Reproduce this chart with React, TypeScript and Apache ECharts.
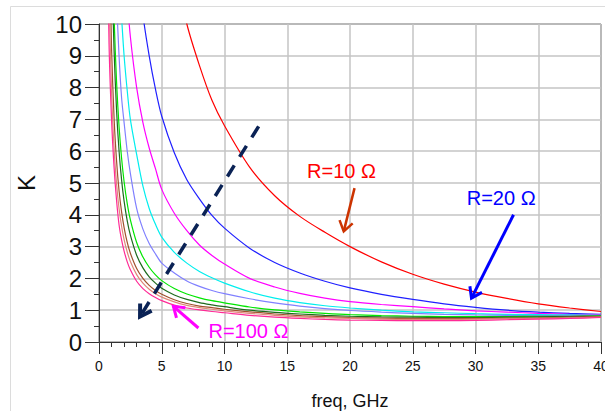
import React, { useEffect, useRef } from "react";
import * as echarts from "echarts";

// frequency samples (GHz)
const freqGHz = [0.6, 0.8, 1, 1.2, 1.4, 1.6, 1.8, 2, 2.25, 2.5, 3, 3.5, 4, 4.5, 5, 6, 7, 8, 9, 10, 12, 14, 16, 18, 20, 22.5, 25, 27.5, 30, 32.5, 35, 37.5, 40];

// K values per resistor value (null = far above the plotted range)
const kR10 = [null, null, null, null, null, null, null, null, null, null, null, null, null, null, null, 11.9, 10.0, 8.7, 7.6, 6.8, 5.5, 4.6, 3.95, 3.45, 3.0, 2.52, 2.13, 1.82, 1.57, 1.37, 1.2, 1.07, 0.96];
const kR20 = [null, null, null, null, null, null, null, null, null, null, 12.5, 10.3, 9.0, 7.95, 7.1, 5.95, 5.1, 4.5, 3.98, 3.58, 2.95, 2.5, 2.17, 1.91, 1.7, 1.5, 1.34, 1.2, 1.09, 1.0, 0.94, 0.9, 0.87];
const kR30 = [null, null, null, null, null, null, null, 12.3, 10.8, 9.6, 8.0, 6.9, 6.1, 5.45, 4.8, 4.05, 3.5, 3.05, 2.72, 2.45, 2.0, 1.73, 1.53, 1.38, 1.27, 1.18, 1.11, 1.04, 0.98, 0.94, 0.9, 0.87, 0.85];
const kR40 = [null, null, null, null, null, 11.5, 10.2, 9.0, 7.9, 7.0, 5.9, 4.9, 4.2, 3.7, 3.3, 2.82, 2.48, 2.22, 2.02, 1.85, 1.58, 1.38, 1.24, 1.14, 1.07, 1.0, 0.95, 0.92, 0.89, 0.87, 0.86, 0.85, 0.84];
const kR50 = [null, null, null, 13.46, 10.8, 8.98, 7.68, 6.9, 6.0, 5.3, 4.2, 3.55, 3.1, 2.77, 2.48, 2.17, 1.92, 1.75, 1.62, 1.52, 1.36, 1.23, 1.13, 1.05, 0.99, 0.94, 0.9, 0.87, 0.85, 0.84, 0.83, 0.83, 0.83];
const kR60 = [null, null, 13.55, 10.25, 8.17, 6.77, 5.78, 5.04, 4.35, 3.84, 3.13, 2.67, 2.35, 2.11, 1.93, 1.68, 1.51, 1.39, 1.3, 1.23, 1.1, 1.01, 0.95, 0.9, 0.86, 0.83, 0.81, 0.8, 0.8, 0.8, 0.81, 0.81, 0.82];
const kR70 = [null, 17.6, 12.2, 9.18, 7.28, 6.0, 5.1, 4.43, 3.81, 3.36, 2.73, 2.33, 2.05, 1.85, 1.69, 1.48, 1.34, 1.24, 1.17, 1.11, 1.0, 0.93, 0.88, 0.84, 0.81, 0.79, 0.78, 0.77, 0.77, 0.78, 0.79, 0.8, 0.81];
const kR80 = [null, 13.1, 9.24, 7.06, 5.69, 4.75, 4.09, 3.6, 3.13, 2.79, 2.31, 2.0, 1.78, 1.62, 1.5, 1.33, 1.21, 1.13, 1.08, 1.03, 0.95, 0.88, 0.83, 0.8, 0.77, 0.75, 0.74, 0.74, 0.74, 0.75, 0.76, 0.78, 0.8];
const kR90 = [17.3, 11.0, 7.89, 6.1, 4.97, 4.19, 3.64, 3.22, 2.83, 2.53, 2.12, 1.85, 1.66, 1.52, 1.41, 1.26, 1.15, 1.08, 1.03, 0.98, 0.9, 0.84, 0.79, 0.76, 0.74, 0.72, 0.71, 0.71, 0.72, 0.73, 0.74, 0.76, 0.78];
const kR100 = [14.65, 9.39, 7.0, 5.5, 4.45, 3.68, 3.21, 2.86, 2.52, 2.27, 1.91, 1.68, 1.52, 1.4, 1.3, 1.16, 1.07, 1.01, 0.96, 0.92, 0.84, 0.78, 0.74, 0.71, 0.69, 0.68, 0.67, 0.67, 0.68, 0.7, 0.72, 0.74, 0.77];

const curveNames = ["R=10", "R=20", "R=30", "R=40", "R=50", "R=60", "R=70", "R=80", "R=90", "R=100"];
const curveColors = ["#FF0000", "#2020FF", "#FF00FF", "#00EEEE", "#8080FF", "#00E600", "#1E6B1E", "#A0522D", "#E0887A", "#FF2A96"];

const xTickLabels = ["0", "5", "10", "15", "20", "25", "30", "35", "40"];
const yTickLabels = ["0", "1", "2", "3", "4", "5", "6", "7", "8", "9", "10"];

// annotations in data coordinates [freq, K]
const annoTexts = [
  { text: "R=10 Ω", at: [16.58, 5.37], color: "#FF0000" },
  { text: "R=20 Ω", at: [29.3, 4.53], color: "#0000FF" },
  { text: "R=100 Ω", at: [8.72, 0.36], color: "#FF00FF" },
];
const annoArrows = [
  { from: [20.36, 4.84], to: [19.5, 3.48], color: "#CC3300", width: 2.5 },
  { from: [33.03, 4.0], to: [29.68, 1.38], color: "#0000FF", width: 3 },
  { from: [7.92, 0.44], to: [5.93, 1.12], color: "#FF00FF", width: 3 },
];
const trendArrow = { from: [12.72, 6.78], to: [3.27, 0.8], color: "#0A2255", width: 3.5 };

const FONT = "'Liberation Sans', Arial, Helvetica, sans-serif";

export default function App() {
  const ref = useRef<HTMLDivElement>(null);
  useEffect(() => {
    const chart = echarts.init(ref.current!, null, { renderer: "svg" });
    const curves = [kR10, kR20, kR30, kR40, kR50, kR60, kR70, kR80, kR90, kR100];
    const series = curves.map((vals, i) => ({
      type: "line",
      name: curveNames[i],
      data: freqGHz
        .map((f, j) => [f, vals[j]])
        .filter((p) => p[1] !== null && p[1] !== undefined),
      showSymbol: false,
      smooth: 0.3,
      clip: true,
      silent: true,
      lineStyle: { color: curveColors[i], width: 1.2 },
      itemStyle: { color: curveColors[i] },
    }));
    chart.setOption({
      animation: false,
      backgroundColor: "#ffffff",
      grid: {
        left: 99, right: 4, top: 24, bottom: 69,
        outerBoundsMode: "none",
        containLabel: false,
        show: true, borderColor: "#333", borderWidth: 1, backgroundColor: "transparent",
      },
      xAxis: {
        type: "value",
        min: 0,
        max: 40,
        interval: 5,
        name: "freq, GHz",
        nameLocation: "middle",
        nameGap: 50,
        nameTextStyle: { fontSize: 18, color: "#111", fontFamily: FONT },
        axisLine: { lineStyle: { color: "#333", width: 1 } },
        axisTick: { show: true, length: 12, lineStyle: { color: "#333" } },
        minorTick: { show: true, splitNumber: 5, length: 5, lineStyle: { color: "#333" } },
        axisLabel: { fontSize: 14, color: "#111", margin: 17, fontFamily: FONT, formatter: (v: number) => xTickLabels[Math.round(v / 5)] ?? String(v) },
        splitLine: { show: true, lineStyle: { color: "#c4c4c4", width: 1.5 } },
      },
      yAxis: {
        type: "value",
        min: 0,
        max: 10,
        interval: 1,
        name: "K",
        nameLocation: "middle",
        nameGap: 61,
        nameRotate: 90,
        nameTextStyle: { fontSize: 24, color: "#111", fontFamily: FONT },
        axisLine: { show: true, lineStyle: { color: "#333", width: 1 } },
        axisTick: { show: true, length: 14, lineStyle: { color: "#333" } },
        minorTick: { show: true, splitNumber: 2, length: 5, lineStyle: { color: "#333" } },
        axisLabel: { fontSize: 24, color: "#111", margin: 17, fontFamily: FONT, formatter: (v: number) => yTickLabels[Math.round(v)] ?? String(v) },
        splitLine: { show: true, lineStyle: { color: "#c4c4c4", width: 1.5 } },
      },
      series,
    });

    const px = (p: number[]) => chart.convertToPixel({ gridIndex: 0 }, p) as number[];
    const arrowHead = (a: number[], b: number[], len: number, ang: number) => {
      const dx = b[0] - a[0];
      const dy = b[1] - a[1];
      const d = Math.hypot(dx, dy);
      const ux = dx / d;
      const uy = dy / d;
      const rot = (t: number) => [
        b[0] - len * (ux * Math.cos(t) - uy * Math.sin(t)),
        b[1] - len * (ux * Math.sin(t) + uy * Math.cos(t)),
      ];
      return [rot(ang), b, rot(-ang)];
    };
    const graphics: any[] = [
      {
        type: "rect",
        shape: { x: 10.5, y: 6.5, width: 700, height: 500 },
        style: { fill: "none", stroke: "#dcdcdc", lineWidth: 1 },
        silent: true,
        z: -10,
      },
    ];
    annoArrows.forEach((a) => {
      const p0 = px(a.from);
      const p1 = px(a.to);
      graphics.push({
        type: "line",
        shape: { x1: p0[0], y1: p0[1], x2: p1[0], y2: p1[1] },
        style: { stroke: a.color, lineWidth: a.width },
        z: 100,
      });
      graphics.push({
        type: "polyline",
        shape: { points: arrowHead(p0, p1, 12, 0.6) },
        style: { stroke: a.color, lineWidth: a.width, fill: "none" },
        z: 100,
      });
    });
    {
      const p0 = px(trendArrow.from);
      const p1 = px(trendArrow.to);
      graphics.push({
        type: "line",
        shape: { x1: p0[0], y1: p0[1], x2: p1[0], y2: p1[1] },
        style: { stroke: trendArrow.color, lineWidth: trendArrow.width, lineDash: [13, 10] },
        z: 100,
      });
      graphics.push({
        type: "polyline",
        shape: { points: arrowHead(p0, p1, 13, 0.55) },
        style: { stroke: trendArrow.color, lineWidth: 4, fill: "none" },
        z: 100,
      });
    }
    annoTexts.forEach((t) => {
      const p = px(t.at);
      graphics.push({
        type: "text",
        x: p[0],
        y: p[1],
        style: { text: t.text, fill: t.color, fontSize: 20, fontFamily: FONT, textAlign: "left", textVerticalAlign: "middle" },
        z: 100,
      });
    });
    chart.setOption({ graphic: graphics });

    return () => chart.dispose();
  }, []);
  return <div ref={ref} style={{ position: "fixed", left: 0, top: 0, width: 605, height: 411 }} />;
}
